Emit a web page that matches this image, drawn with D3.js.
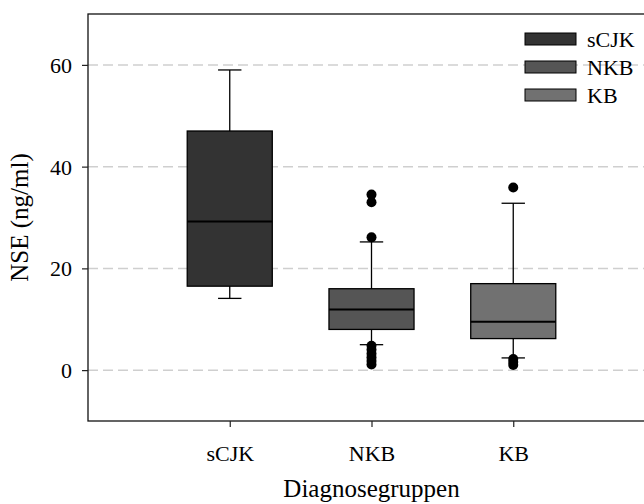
<!DOCTYPE html>
<html>
<head>
<meta charset="utf-8">
<script src="https://cdn.jsdelivr.net/npm/d3@7"></script>
<style>
  body { margin: 0; background: #fff; }
  text { font-family: "Liberation Serif", "Times New Roman", "DejaVu Serif", serif; }
</style>
</head>
<body>
<svg id="chart" width="644" height="504"></svg>
<script>
// box plot values
const categories = ["sCJK", "NKB", "KB"];
const whiskerLow = [14.1, 5.0, 2.4];
const q1 = [16.5, 8.0, 6.2];
const median = [29.2, 11.9, 9.5];
const q3 = [47.0, 16.0, 17.0];
const whiskerHigh = [59.0, 25.2, 32.8];
const outliersSCJK = [];
const outliersNKB = [34.5, 33.0, 26.1, 4.8, 4.0, 3.2, 2.5, 1.8, 1.1];
const outliersKB = [35.9, 2.2, 1.6, 1.0];
const yTicks = [0, 20, 40, 60];
const fills = ["#333333", "#555555", "#717171"];

const outliers = [outliersSCJK, outliersNKB, outliersKB];
const boxes = categories.map((c, i) => ({
  name: c, pos: i + 1, lo: whiskerLow[i], q1: q1[i], med: median[i],
  q3: q3[i], hi: whiskerHigh[i], out: outliers[i], fill: fills[i]
}));

const plotLeft = 88, plotTop = 14, plotBottom = 421, plotRight = 655;

const svg = d3.select("#chart");

const x = d3.scaleLinear().domain([0, 4]).range([plotLeft, plotRight]);
const y = d3.scaleLinear().domain([-10, 70]).range([plotBottom, plotTop]);

const boxW = x(0.6) - x(0);
const capW = x(0.165) - x(0);

// dashed grid lines
svg.append("g")
  .selectAll("line")
  .data(yTicks)
  .join("line")
  .attr("x1", plotLeft)
  .attr("x2", plotRight)
  .attr("y1", (d) => y(d))
  .attr("y2", (d) => y(d))
  .attr("stroke", "#cfcfcf")
  .attr("stroke-width", 1.5)
  .attr("stroke-dasharray", "10,5");

// frame
svg.append("rect")
  .attr("x", plotLeft)
  .attr("y", plotTop)
  .attr("width", plotRight - plotLeft)
  .attr("height", plotBottom - plotTop)
  .attr("fill", "none")
  .attr("stroke", "#111")
  .attr("stroke-width", 1.3);

const g = svg.append("g")
  .selectAll("g")
  .data(boxes)
  .join("g");

// whiskers
g.append("line")
  .attr("x1", (d) => x(d.pos))
  .attr("x2", (d) => x(d.pos))
  .attr("y1", (d) => y(d.lo))
  .attr("y2", (d) => y(d.hi))
  .attr("stroke", "#000")
  .attr("stroke-width", 1.3);

g.selectAll(".cap")
  .data((d) => [d.lo, d.hi].map((v) => ({ v: v, pos: d.pos })))
  .join("line")
  .attr("class", "cap")
  .attr("x1", (d) => x(d.pos) - capW / 2)
  .attr("x2", (d) => x(d.pos) + capW / 2)
  .attr("y1", (d) => y(d.v))
  .attr("y2", (d) => y(d.v))
  .attr("stroke", "#000")
  .attr("stroke-width", 1.3);

// box
g.append("rect")
  .attr("x", (d) => x(d.pos) - boxW / 2)
  .attr("y", (d) => y(d.q3))
  .attr("width", boxW)
  .attr("height", (d) => y(d.q1) - y(d.q3))
  .attr("fill", (d) => d.fill)
  .attr("stroke", "#000")
  .attr("stroke-width", 1.3);

// median
g.append("line")
  .attr("x1", (d) => x(d.pos) - boxW / 2)
  .attr("x2", (d) => x(d.pos) + boxW / 2)
  .attr("y1", (d) => y(d.med))
  .attr("y2", (d) => y(d.med))
  .attr("stroke", "#000")
  .attr("stroke-width", 2);

// outliers
g.selectAll("circle")
  .data((d) => d.out.map((v) => ({ v: v, pos: d.pos })))
  .join("circle")
  .attr("cx", (d) => x(d.pos))
  .attr("cy", (d) => y(d.v))
  .attr("r", 5)
  .attr("fill", "#000");

// axes
const yAxis = svg.append("g")
  .attr("transform", "translate(" + plotLeft + ",0)")
  .call(d3.axisLeft(y).tickValues(yTicks).tickSize(6).tickPadding(10));
yAxis.select(".domain").remove();
yAxis.selectAll("text")
  .attr("font-size", 22)
  .attr("dy", "0.34em")
  .attr("fill", "#000");
yAxis.selectAll("line").attr("stroke", "#222").attr("stroke-width", 1.2);

const xAxis = svg.append("g")
  .attr("transform", "translate(0," + plotBottom + ")")
  .call(d3.axisBottom(x).tickValues([1, 2, 3])
    .tickFormat((d) => categories[d - 1]).tickSize(6).tickPadding(0));
xAxis.select(".domain").remove();
xAxis.selectAll("text")
  .attr("y", 40)
  .attr("dy", 0)
  .attr("font-size", 22)
  .attr("fill", "#000");
xAxis.selectAll("line").attr("stroke", "#222").attr("stroke-width", 1.2);

// axis titles
svg.append("text")
  .attr("x", x(2))
  .attr("y", 497)
  .attr("text-anchor", "middle")
  .attr("font-size", 25)
  .text("Diagnosegruppen");

svg.append("text")
  .attr("transform", "translate(28," + (plotTop + plotBottom) / 2 + ") rotate(-90)")
  .attr("text-anchor", "middle")
  .attr("font-size", 25)
  .text("NSE (ng/ml)");

// legend
const legend = svg.append("g")
  .selectAll("g")
  .data(boxes)
  .join("g")
  .attr("transform", (d, i) => "translate(525," + (39 + i * 28) + ")");

legend.append("rect")
  .attr("x", 0)
  .attr("y", -6)
  .attr("width", 51)
  .attr("height", 12)
  .attr("fill", (d) => d.fill)
  .attr("stroke", "#000")
  .attr("stroke-width", 1);

legend.append("text")
  .attr("x", 62)
  .attr("y", 8)
  .attr("font-size", 22)
  .text((d) => d.name);
</script>
</body>
</html>
